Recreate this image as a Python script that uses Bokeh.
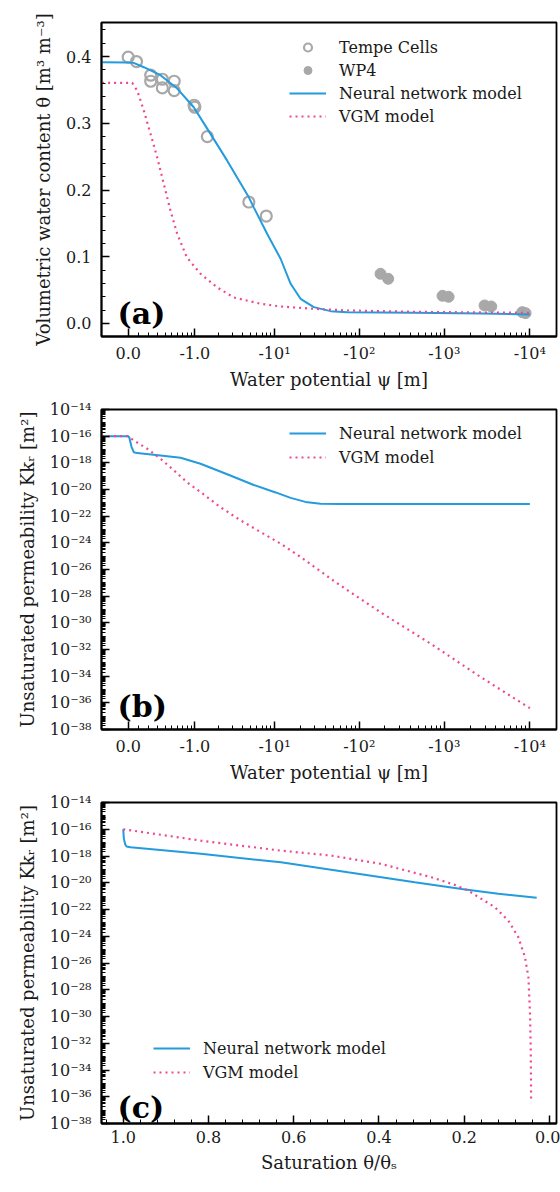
import numpy as np
from bokeh.plotting import figure
from bokeh.models import (Range1d, FixedTicker, SingleIntervalTicker, NumeralTickFormatter,
                          CustomJSTickFormatter, Legend, LegendItem, Label)
from bokeh.layouts import column
from bokeh.embed import file_html
from bokeh.resources import INLINE

# ---------------- data ----------------
# (a) water retention
tempe_psi = [0.0, -0.077, -0.22, -0.22, -0.36, -0.36, -0.54, -0.54, -0.98, -1.0, -1.45, -4.8, -7.9]
tempe_theta = [0.399, 0.3925, 0.372, 0.363, 0.366, 0.353, 0.363, 0.349, 0.327, 0.324, 0.280, 0.182, 0.161]

wp4_psi = [-178, -219, -955, -1124, -2958, -3540, -8150, -8910]
wp4_theta = [0.0745, 0.067, 0.0415, 0.0400, 0.027, 0.0255, 0.017, 0.0155]

nn_a_psi = [0.26, 0.0, -0.05, -0.148, -0.336, -0.595, -0.97, -1.445, -2.58, -4.80, -5.53, -8.12,
            -11.8, -15.5, -20.3, -29.1, -45.8, -72, -436, -2670, -10000]
nn_a_theta = [0.3915, 0.391, 0.3905, 0.384, 0.372, 0.352, 0.324, 0.292, 0.244, 0.189, 0.174, 0.134,
              0.097, 0.0595, 0.037, 0.0245, 0.0185, 0.017, 0.016, 0.015, 0.0135]

vgm_a_psi = [0.26, -0.0368, -0.0835, -0.148, -0.218, -0.294, -0.380, -0.479, -0.595, -0.795, -1.186,
             -1.935, -3.12, -6.7, -11.8, -29.1, -72, -436, -2670, -10000]
vgm_a_theta = [0.3605, 0.3605, 0.349, 0.319, 0.284, 0.249, 0.209, 0.169, 0.134, 0.099, 0.0745,
               0.054, 0.039, 0.0295, 0.0255, 0.022, 0.0195, 0.0175, 0.0165, 0.016]

# (b) permeability vs potential (log10 of Kk_r in m^2)
nn_b_psi = [0.26, 0.0, -0.01, -0.0304, -0.0515, -0.0835, -0.336, -0.659, -1.186, -2.58, -5.53,
            -10.3, -15.5, -23.2, -34.9, -60.1, -10000]
nn_b_log10k = [-16, -16, -16.1, -16.8, -17.2, -17.27, -17.45, -17.62, -18.07, -18.86, -19.66,
               -20.22, -20.63, -20.93, -21.07, -21.09, -21.09]

vgm_b_psi = [0.26, 0.0, -0.0515, -0.182, -0.336, -0.536, -0.795, -1.186, -2.12, -3.78, -6.7,
             -11.8, -20.3, -52.2, -176, -690, -2655, -10000]
vgm_b_log10k = [-16, -16, -16.32, -16.94, -17.69, -18.57, -19.45, -20.19, -21.32, -22.31, -23.19,
                -24.06, -25.06, -26.94, -29.19, -31.56, -34.06, -36.4]

# (c) permeability vs saturation
nn_c_sat = [1.0, 0.9986, 0.9953, 0.9922, 0.983, 0.818, 0.630, 0.473, 0.316, 0.206, 0.120, 0.030]
nn_c_log10k = [-16, -16.7, -17.14, -17.29, -17.35, -17.84, -18.47, -19.22, -19.96, -20.46, -20.83, -21.13]

vgm_c_sat = [1.0, 0.818, 0.630, 0.512, 0.395, 0.277, 0.222, 0.191, 0.160, 0.128, 0.0965, 0.0729,
             0.0574, 0.0494, 0.0456, 0.0440, 0.0433, 0.0432]
vgm_c_log10k = [-16, -16.85, -17.6, -17.97, -18.59, -19.59, -20.16, -20.58, -21.2, -21.83, -22.83,
                -24.08, -25.57, -27.07, -29.81, -32.31, -34.8, -36.24]

# tick labels
psi_major = [0, -1, -10, -100, -1000, -10000]
psi_major_labels = ["0.0", "-1.0", "-10¹", "-10²", "-10³", "-10⁴"]

# ---------------- styles ----------------
FONT = "DejaVu Serif"
BLUE = "#239bdc"
PINK = "#f0488f"
GRAY = "#a8a8a8"
TXT = "#1a1a1a"

# ---------------- potential axis transform (symmetric-log like) ----------------
A_LIN = 0.34
V_KNOTS = np.array([0, 1, 10, 100, 1000, 10000.0])
U_KNOTS = np.array([0.0, 66.6, 146.3, 231.0, 316.0, 401.6])
G_KNOTS = np.arcsinh(V_KNOTS / A_LIN)


def to_u(psi):
    v = -np.atleast_1d(np.asarray(psi, dtype=float))
    g = np.arcsinh(v / A_LIN)
    u = np.interp(g, G_KNOTS, U_KNOTS)
    lo = g < G_KNOTS[0]
    u[lo] = U_KNOTS[0] + (g[lo] - G_KNOTS[0]) * (U_KNOTS[1] - U_KNOTS[0]) / (G_KNOTS[1] - G_KNOTS[0])
    hi = g > G_KNOTS[-1]
    u[hi] = U_KNOTS[-1] + (g[hi] - G_KNOTS[-1]) * (U_KNOTS[-1] - U_KNOTS[-2]) / (G_KNOTS[-1] - G_KNOTS[-2])
    return u


psi_minor = [-0.1 * k for k in range(1, 10)]
for n in range(0, 4):
    psi_minor += [-k * 10.0 ** n for k in range(2, 10)]

major_u = [float(x) for x in to_u(psi_major)]
minor_u = [float(x) for x in to_u(psi_minor)]

psi_formatter = CustomJSTickFormatter(args=dict(pos=major_u, labs=psi_major_labels), code="""
let best = ''; let bd = 1e9;
for (let i = 0; i < pos.length; i++) {
  const d = Math.abs(pos[i] - tick);
  if (d < bd) { bd = d; best = labs[i]; }
}
return best;
""")

log_formatter = CustomJSTickFormatter(code="""
const sup = {'-':'\u207b','0':'\u2070','1':'\u00b9','2':'\u00b2','3':'\u00b3','4':'\u2074',
             '5':'\u2075','6':'\u2076','7':'\u2077','8':'\u2078','9':'\u2079'};
const e = Math.round(Math.log10(tick));
return '10' + String(e).split('').map(c => sup[c]).join('');
""")

log_major = [10.0 ** e for e in range(-38, -13, 2)]
log_minor = [k * 10.0 ** e for e in range(-38, -14) for k in range(1, 10)]


def style(p):
    p.grid.visible = False
    p.outline_line_color = "black"
    p.outline_line_width = 1.8
    p.background_fill_color = "white"
    p.border_fill_color = "white"
    for ax in p.axis:
        ax.axis_line_width = 1.8
        ax.axis_line_color = "black"
        ax.major_tick_in = 8
        ax.major_tick_out = 0
        ax.minor_tick_in = 4
        ax.minor_tick_out = 0
        ax.major_tick_line_width = 1.5
        ax.minor_tick_line_width = 1
        ax.major_tick_line_color = "black"
        ax.minor_tick_line_color = "black"
        ax.major_label_text_font = FONT
        ax.major_label_text_font_size = "16px"
        ax.major_label_text_color = TXT
        ax.axis_label_text_font = FONT
        ax.axis_label_text_font_size = "18px"
        ax.axis_label_text_font_style = "normal"
        ax.axis_label_text_color = TXT
    p.xaxis.major_label_standoff = 7
    p.xaxis.axis_label_standoff = 3
    p.yaxis.major_label_standoff = 10
    p.yaxis.axis_label_standoff = 9


def make_legend(items, loc, spacing=4):
    lg = Legend(items=items, location=loc)
    lg.label_text_font = FONT
    lg.label_text_font_size = "16px"
    lg.label_text_color = TXT
    lg.glyph_width = 37
    lg.glyph_height = 20
    lg.label_height = 20
    lg.label_standoff = 13
    lg.spacing = spacing
    lg.padding = 10
    lg.margin = 0
    lg.border_line_alpha = 0
    lg.background_fill_alpha = 0
    return lg


def panel_label(text, y):
    return Label(x=16, y=y, x_units="screen", y_units="screen", text=text,
                 text_font=FONT, text_font_style="bold", text_font_size="30px",
                 text_color="black", text_baseline="alphabetic")


x_psi_range = Range1d(*[float(x) for x in to_u([0.267, -20470])])

# ---------------- (a) ----------------
p1 = figure(frame_width=455, frame_height=314, min_border_left=101, min_border_right=4,
            min_border_top=22, min_border_bottom=56,
            x_range=x_psi_range, y_range=Range1d(-0.0195, 0.451),
            output_backend="svg", toolbar_location=None)
r_t = p1.scatter(to_u(tempe_psi), tempe_theta, marker="circle", size=11, fill_color=None,
                 line_color=GRAY, line_width=2.2)
r_w = p1.scatter(to_u(wp4_psi), wp4_theta, marker="circle", size=11, fill_color=GRAY,
                 line_color=GRAY, line_width=1)
r_n = p1.line(to_u(nn_a_psi), nn_a_theta, line_color=BLUE, line_width=2)
r_v = p1.line(to_u(vgm_a_psi), vgm_a_theta, line_color=PINK, line_width=2.2, line_dash="2 4")
p1.xaxis.ticker = FixedTicker(ticks=major_u, minor_ticks=minor_u)
p1.xaxis.formatter = psi_formatter
p1.yaxis.ticker = SingleIntervalTicker(interval=0.1, num_minor_ticks=5)
p1.yaxis.formatter = NumeralTickFormatter(format="0.0")
p1.xaxis.axis_label = "Water potential ψ [m]"
p1.yaxis.axis_label = "Volumetric water content θ [m³ m⁻³]"
style(p1)
p1.add_layout(make_legend([LegendItem(label="Tempe Cells", renderers=[r_t]),
                           LegendItem(label="WP4", renderers=[r_w]),
                           LegendItem(label="Neural network model", renderers=[r_n]),
                           LegendItem(label="VGM model", renderers=[r_v])], (178, 200), spacing=3))
p1.add_layout(panel_label("(a)", 23))

# ---------------- (b) ----------------
p2 = figure(frame_width=455, frame_height=320, min_border_left=101, min_border_right=4,
            min_border_top=17, min_border_bottom=56,
            x_range=Range1d(x_psi_range.start, x_psi_range.end), y_range=Range1d(1e-38, 1e-14),
            y_axis_type="log", output_backend="svg", toolbar_location=None)
r_n2 = p2.line(to_u(nn_b_psi), [10.0 ** k for k in nn_b_log10k], line_color=BLUE, line_width=2)
r_v2 = p2.line(to_u(vgm_b_psi), [10.0 ** k for k in vgm_b_log10k], line_color=PINK,
               line_width=2.2, line_dash="2 4")
p2.xaxis.ticker = FixedTicker(ticks=major_u, minor_ticks=minor_u)
p2.xaxis.formatter = psi_formatter
p2.yaxis.ticker = FixedTicker(ticks=log_major, minor_ticks=log_minor)
p2.yaxis.formatter = log_formatter
p2.xaxis.axis_label = "Water potential ψ [m]"
p2.yaxis.axis_label = "Unsaturated permeability Kkᵣ [m²]"
style(p2)
p2.add_layout(make_legend([LegendItem(label="Neural network model", renderers=[r_n2]),
                           LegendItem(label="VGM model", renderers=[r_v2])], (178, 252)))
p2.add_layout(panel_label("(b)", 23))

# ---------------- (c) ----------------
p3 = figure(frame_width=455, frame_height=321, min_border_left=101, min_border_right=4,
            min_border_top=17, min_border_bottom=68,
            x_range=Range1d(1.051, -0.0165), y_range=Range1d(1e-38, 1e-14),
            y_axis_type="log", output_backend="svg", toolbar_location=None)
r_n3 = p3.line(nn_c_sat, [10.0 ** k for k in nn_c_log10k], line_color=BLUE, line_width=2)
r_v3 = p3.line(vgm_c_sat, [10.0 ** k for k in vgm_c_log10k], line_color=PINK,
               line_width=2.2, line_dash="2 4")
p3.xaxis.ticker = SingleIntervalTicker(interval=0.2, num_minor_ticks=5)
p3.xaxis.formatter = NumeralTickFormatter(format="0.0")
p3.yaxis.ticker = FixedTicker(ticks=log_major, minor_ticks=log_minor)
p3.yaxis.formatter = log_formatter
p3.xaxis.axis_label = "Saturation θ/θₛ"
p3.yaxis.axis_label = "Unsaturated permeability Kkᵣ [m²]"
style(p3)
p3.xaxis.axis_label_standoff = 6
p3.add_layout(make_legend([LegendItem(label="Neural network model", renderers=[r_n3]),
                           LegendItem(label="VGM model", renderers=[r_v3])], (42, 31)))
p3.add_layout(panel_label("(c)", 16))

layout = column(p1, p2, p3)
open("out.html", "w").write(file_html(layout, INLINE))
